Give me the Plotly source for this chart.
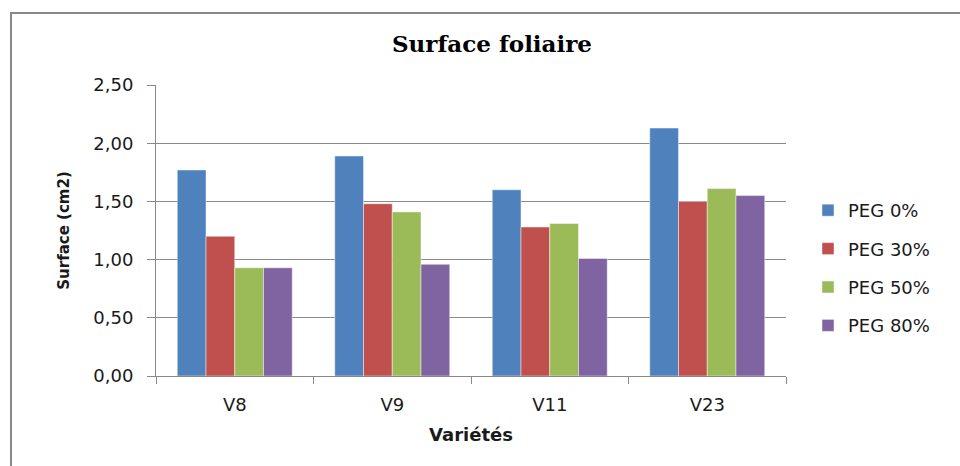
import plotly.graph_objects as go

categories = ["V8", "V9", "V11", "V23"]
series_names = ["PEG 0%", "PEG 30%", "PEG 50%", "PEG 80%"]
peg0 = [1.77, 1.89, 1.60, 2.13]
peg30 = [1.20, 1.48, 1.28, 1.50]
peg50 = [0.93, 1.41, 1.31, 1.61]
peg80 = [0.93, 0.96, 1.01, 1.55]
y_ticks = [0, 0.5, 1.0, 1.5, 2.0, 2.5]
y_tick_labels = ["0,00", "0,50", "1,00", "1,50", "2,00", "2,50"]

colors = ["#4F81BD", "#C0504D", "#9BBB59", "#8064A2"]
values = [peg0, peg30, peg50, peg80]

fig = go.Figure()
for i, (name, vals) in enumerate(zip(series_names, values)):
    fig.add_trace(go.Bar(
        x=categories, y=vals, name=name, legendgroup=name,
        marker=dict(color=colors[i], line=dict(color="rgba(255,255,255,0.45)", width=1)),
    ))

W, H = 960, 466
L, R, T, B = 156, 786, 85, 376   # plot area in pixels
pw, ph = R - L, B - T

def px_x(px):
    return (px - L) / pw

def px_y(py):
    return (B - py) / ph

SANS = "DejaVu Sans, Verdana, sans-serif"
TXT = "#1a1a1a"

fig.update_layout(
    width=W, height=H,
    margin=dict(l=L, r=W - R, t=T, b=H - B, pad=0),
    paper_bgcolor="white", plot_bgcolor="white",
    barmode="group", bargap=0.27, bargroupgap=0,
    font=dict(family=SANS, size=18, color=TXT),
    title=dict(text="<b>Surface foliaire</b>", x=492 / W, xanchor="center",
               y=1 - 44 / H, yanchor="middle",
               font=dict(family="DejaVu Serif, serif", size=23, color="black")),
    xaxis=dict(
        showline=True, linecolor="#888888", linewidth=1,
        ticks="outside", ticklen=7, tickcolor="#888888", tickson="boundaries",
        ticklabelstandoff=12,
        tickfont=dict(family=SANS, size=18, color=TXT),
        title=dict(text="<b>Variétés</b>", font=dict(family=SANS, size=18, color=TXT), standoff=14),
    ),
    yaxis=dict(
        range=[0, 2.5], tickvals=y_ticks, ticktext=y_tick_labels,
        showline=True, linecolor="#888888", linewidth=1,
        ticks="outside", ticklen=8, tickcolor="#888888",
        ticklabelstandoff=10,
        showgrid=True, gridcolor="#8a8a8a", gridwidth=1,
        tickfont=dict(family=SANS, size=18, color=TXT),
        title=dict(text="<b>Surface (cm2)</b>", font=dict(family=SANS, size=15, color=TXT), standoff=20),
        zeroline=False,
    ),
    legend=dict(x=px_x(808), xanchor="left", y=px_y(268), yanchor="middle",
                font=dict(family=SANS, size=18, color=TXT), tracegroupgap=12,
                itemwidth=30, bgcolor="rgba(0,0,0,0)"),
    showlegend=True,
    shapes=[dict(type="rect", xref="paper", yref="paper",
                 x0=px_x(11), x1=px_x(990), y0=px_y(500), y1=px_y(13),
                 line=dict(color="#888888", width=2), fillcolor="rgba(0,0,0,0)", layer="below")],
)

fig.write_html(
    "out.html",
    config={"displayModeBar": False},
    post_script="document.body.style.margin='0';document.body.style.padding='0';"
                "document.documentElement.style.overflow='hidden';",
)
